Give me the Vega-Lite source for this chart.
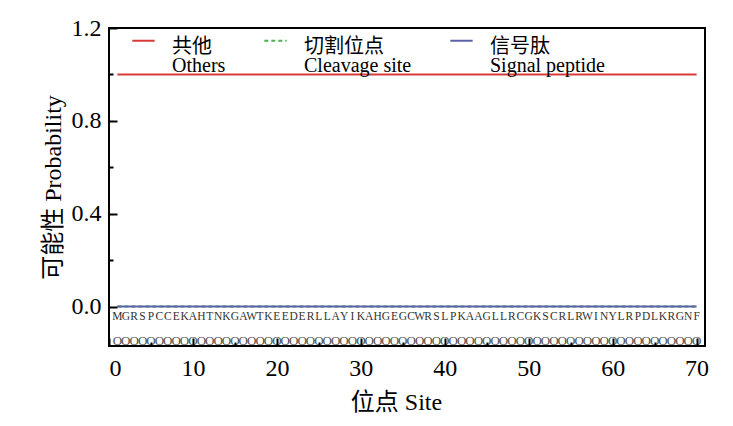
{
"$schema": "https://vega.github.io/schema/vega-lite/v6.json",
"width": 596, "height": 318,
"autosize": {"type": "none"},
"padding": {"left": 109, "top": 28, "right": 28, "bottom": 80},
"background": "white",
"config": {"view": {"stroke": "black", "strokeWidth": 2}, "font": "Liberation Serif, Noto Sans CJK SC"},
"resolve": {"axis": {"x": "independent", "y": "independent"}},
"data": {"values": [
{"site":1,"aa":"M","pred":"O","others":1,"cleavage":0,"signal":0},
{"site":2,"aa":"G","pred":"O","others":1,"cleavage":0,"signal":0},
{"site":3,"aa":"R","pred":"O","others":1,"cleavage":0,"signal":0},
{"site":4,"aa":"S","pred":"O","others":1,"cleavage":0,"signal":0},
{"site":5,"aa":"P","pred":"O","others":1,"cleavage":0,"signal":0},
{"site":6,"aa":"C","pred":"O","others":1,"cleavage":0,"signal":0},
{"site":7,"aa":"C","pred":"O","others":1,"cleavage":0,"signal":0},
{"site":8,"aa":"E","pred":"O","others":1,"cleavage":0,"signal":0},
{"site":9,"aa":"K","pred":"O","others":1,"cleavage":0,"signal":0},
{"site":10,"aa":"A","pred":"O","others":1,"cleavage":0,"signal":0},
{"site":11,"aa":"H","pred":"O","others":1,"cleavage":0,"signal":0},
{"site":12,"aa":"T","pred":"O","others":1,"cleavage":0,"signal":0},
{"site":13,"aa":"N","pred":"O","others":1,"cleavage":0,"signal":0},
{"site":14,"aa":"K","pred":"O","others":1,"cleavage":0,"signal":0},
{"site":15,"aa":"G","pred":"O","others":1,"cleavage":0,"signal":0},
{"site":16,"aa":"A","pred":"O","others":1,"cleavage":0,"signal":0},
{"site":17,"aa":"W","pred":"O","others":1,"cleavage":0,"signal":0},
{"site":18,"aa":"T","pred":"O","others":1,"cleavage":0,"signal":0},
{"site":19,"aa":"K","pred":"O","others":1,"cleavage":0,"signal":0},
{"site":20,"aa":"E","pred":"O","others":1,"cleavage":0,"signal":0},
{"site":21,"aa":"E","pred":"O","others":1,"cleavage":0,"signal":0},
{"site":22,"aa":"D","pred":"O","others":1,"cleavage":0,"signal":0},
{"site":23,"aa":"E","pred":"O","others":1,"cleavage":0,"signal":0},
{"site":24,"aa":"R","pred":"O","others":1,"cleavage":0,"signal":0},
{"site":25,"aa":"L","pred":"O","others":1,"cleavage":0,"signal":0},
{"site":26,"aa":"L","pred":"O","others":1,"cleavage":0,"signal":0},
{"site":27,"aa":"A","pred":"O","others":1,"cleavage":0,"signal":0},
{"site":28,"aa":"Y","pred":"O","others":1,"cleavage":0,"signal":0},
{"site":29,"aa":"I","pred":"O","others":1,"cleavage":0,"signal":0},
{"site":30,"aa":"K","pred":"O","others":1,"cleavage":0,"signal":0},
{"site":31,"aa":"A","pred":"O","others":1,"cleavage":0,"signal":0},
{"site":32,"aa":"H","pred":"O","others":1,"cleavage":0,"signal":0},
{"site":33,"aa":"G","pred":"O","others":1,"cleavage":0,"signal":0},
{"site":34,"aa":"E","pred":"O","others":1,"cleavage":0,"signal":0},
{"site":35,"aa":"G","pred":"O","others":1,"cleavage":0,"signal":0},
{"site":36,"aa":"C","pred":"O","others":1,"cleavage":0,"signal":0},
{"site":37,"aa":"W","pred":"O","others":1,"cleavage":0,"signal":0},
{"site":38,"aa":"R","pred":"O","others":1,"cleavage":0,"signal":0},
{"site":39,"aa":"S","pred":"O","others":1,"cleavage":0,"signal":0},
{"site":40,"aa":"L","pred":"O","others":1,"cleavage":0,"signal":0},
{"site":41,"aa":"P","pred":"O","others":1,"cleavage":0,"signal":0},
{"site":42,"aa":"K","pred":"O","others":1,"cleavage":0,"signal":0},
{"site":43,"aa":"A","pred":"O","others":1,"cleavage":0,"signal":0},
{"site":44,"aa":"A","pred":"O","others":1,"cleavage":0,"signal":0},
{"site":45,"aa":"G","pred":"O","others":1,"cleavage":0,"signal":0},
{"site":46,"aa":"L","pred":"O","others":1,"cleavage":0,"signal":0},
{"site":47,"aa":"L","pred":"O","others":1,"cleavage":0,"signal":0},
{"site":48,"aa":"R","pred":"O","others":1,"cleavage":0,"signal":0},
{"site":49,"aa":"C","pred":"O","others":1,"cleavage":0,"signal":0},
{"site":50,"aa":"G","pred":"O","others":1,"cleavage":0,"signal":0},
{"site":51,"aa":"K","pred":"O","others":1,"cleavage":0,"signal":0},
{"site":52,"aa":"S","pred":"O","others":1,"cleavage":0,"signal":0},
{"site":53,"aa":"C","pred":"O","others":1,"cleavage":0,"signal":0},
{"site":54,"aa":"R","pred":"O","others":1,"cleavage":0,"signal":0},
{"site":55,"aa":"L","pred":"O","others":1,"cleavage":0,"signal":0},
{"site":56,"aa":"R","pred":"O","others":1,"cleavage":0,"signal":0},
{"site":57,"aa":"W","pred":"O","others":1,"cleavage":0,"signal":0},
{"site":58,"aa":"I","pred":"O","others":1,"cleavage":0,"signal":0},
{"site":59,"aa":"N","pred":"O","others":1,"cleavage":0,"signal":0},
{"site":60,"aa":"Y","pred":"O","others":1,"cleavage":0,"signal":0},
{"site":61,"aa":"L","pred":"O","others":1,"cleavage":0,"signal":0},
{"site":62,"aa":"R","pred":"O","others":1,"cleavage":0,"signal":0},
{"site":63,"aa":"P","pred":"O","others":1,"cleavage":0,"signal":0},
{"site":64,"aa":"D","pred":"O","others":1,"cleavage":0,"signal":0},
{"site":65,"aa":"L","pred":"O","others":1,"cleavage":0,"signal":0},
{"site":66,"aa":"K","pred":"O","others":1,"cleavage":0,"signal":0},
{"site":67,"aa":"R","pred":"O","others":1,"cleavage":0,"signal":0},
{"site":68,"aa":"G","pred":"O","others":1,"cleavage":0,"signal":0},
{"site":69,"aa":"N","pred":"O","others":1,"cleavage":0,"signal":0},
{"site":70,"aa":"F","pred":"O","others":1,"cleavage":0,"signal":0}
]},
"layer": [
{"transform": [{"fold": ["others", "cleavage", "signal"], "as": ["series", "p"]}],
 "mark": {"type": "line", "strokeWidth": 2},
 "encoding": {
  "x": {"field": "site", "type": "quantitative", "scale": {"domain": [0, 71], "nice": false},
        "axis": {"orient": "bottom", "title": "位点  Site", "values": [0,10,20,30,40,50,60,70],
                 "grid": false, "domain": false, "ticks": true, "tickColor": "#000000", "tickWidth": 2, "tickSize": 8, "offset": -8, "zindex": 2,
                 "labelPadding": 10, "labelFontSize": 24, "labelColor": "black", "titleX": 287,
                 "titleFontSize": 24, "titleFontWeight": "normal", "titleColor": "black", "titlePadding": 10}},
  "y": {"field": "p", "type": "quantitative", "scale": {"domain": [-0.17, 1.2], "nice": false, "zero": false},
        "axis": {"orient": "left", "title": "可能性 Probability", "values": [0,0.4,0.8,1.2], "format": ".1f",
                 "grid": false, "domain": false, "ticks": true, "tickColor": "#000000", "tickWidth": 2, "tickSize": 8, "offset": -8, "zindex": 2,
                 "labelPadding": 8, "labelFontSize": 24, "labelColor": "black",
                 "titleFontSize": 24, "titleFontWeight": "normal", "titleColor": "black", "titlePadding": 6}},
  "color": {"field": "series", "type": "nominal",
            "scale": {"domain": ["others", "cleavage", "signal"], "range": ["#d83a3a", "#4caf50", "#5a63a8"]},
            "legend": {"orient": "none", "legendX": 22, "legendY": 0, "direction": "horizontal", "title": null,
                       "symbolType": "stroke", "symbolSize": 500, "symbolStrokeWidth": 2,
                       "labelFontSize": 20, "labelColor": "black", "labelOffset": 16, "columnPadding": 34,
                       "labelBaseline": "middle", "labelLimit": 300,
                       "labelExpr": "datum.label == 'others' ? ['共他', 'Others'] : datum.label == 'cleavage' ? ['切割位点', 'Cleavage site'] : ['信号肽', 'Signal peptide']",
                       "encode": {"labels": {"update": {"dy": {"value": 6}, "lineHeight": {"value": 19}}}}}},
  "strokeDash": {"field": "series", "type": "nominal",
                 "scale": {"domain": ["others", "cleavage", "signal"], "range": [[1, 0], [4, 3], [1, 0]]}}
 }},
{"mark": {"type": "text", "fontSize": 11.5, "color": "#333333", "baseline": "middle"},
 "encoding": {
  "x": {"field": "site", "type": "quantitative",
        "axis": {"orient": "bottom", "values": [5,15,25,35,45,55,65], "labels": false, "title": null,
                 "grid": false, "domain": false, "ticks": true, "tickColor": "#000000", "tickWidth": 2, "tickSize": 4, "offset": -4, "zindex": 2}},
  "y": {"datum": -0.045,
        "axis": {"orient": "left", "values": [0.2,0.6,1.0], "labels": false, "title": null,
                 "grid": false, "domain": false, "ticks": true, "tickColor": "#000000", "tickWidth": 2, "tickSize": 4, "offset": -4, "zindex": 2}},
  "text": {"field": "aa"}}},
{"mark": {"type": "text", "fontSize": 13, "color": "#555555", "baseline": "middle"},
 "encoding": {"x": {"field": "site", "type": "quantitative", "axis": null}, "y": {"datum": -0.15, "axis": null}, "text": {"field": "pred"}}}
]
}
